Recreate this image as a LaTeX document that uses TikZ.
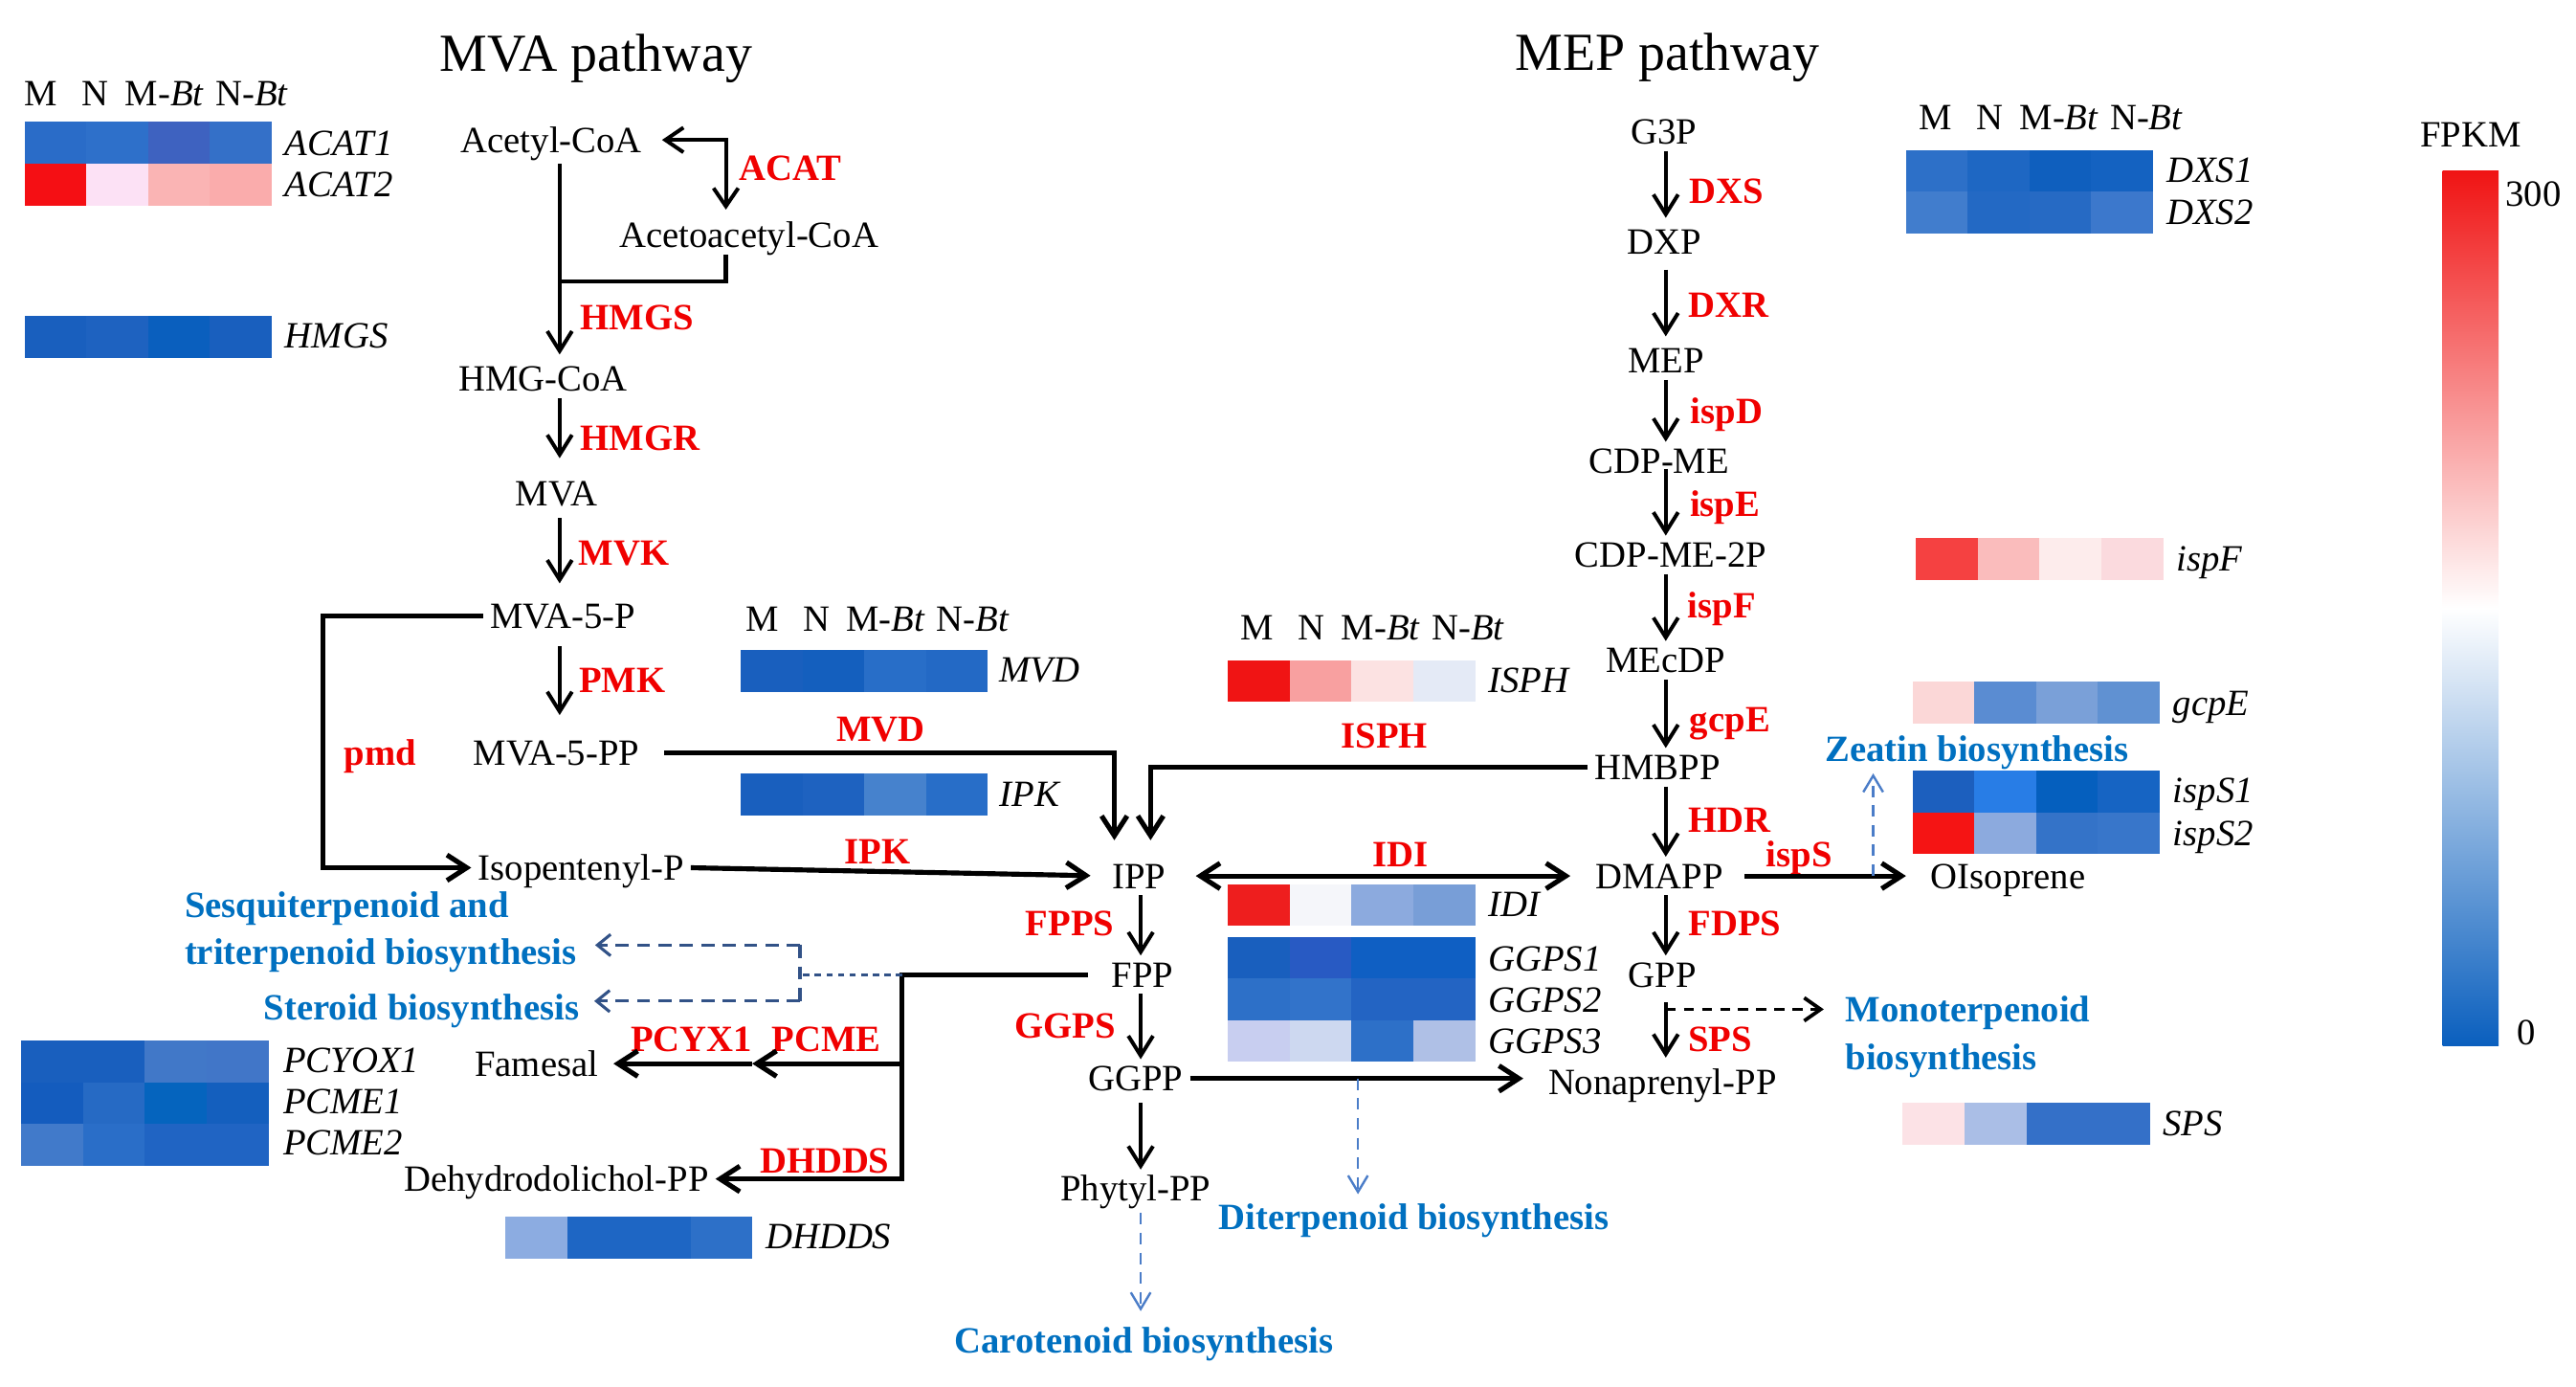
\documentclass[tikz,border=0pt]{standalone}
\usepackage{fontspec}
\setmainfont{Liberation Serif}
\usetikzlibrary{arrows.meta}
\definecolor{ered}{RGB}{240,0,0}
\definecolor{pblue}{RGB}{0,112,192}
\definecolor{dblue}{RGB}{50,82,135}
\definecolor{lblue}{RGB}{75,125,200}
\definecolor{cbred}{RGB}{240,20,20}
\definecolor{cbblue}{RGB}{10,95,190}
\newcommand\hcell[3]{\definecolor{hcellc}{RGB}{#3}\fill[hcellc] (#1,#2) rectangle ++(37.7,25.4);}
\newcommand\hrow[6]{\hcell{#1}{#2}{#3}\hcell{#1+37.5}{#2}{#4}\hcell{#1+75}{#2}{#5}\hcell{#1+112.5}{#2}{#6}}
\newcommand\hdr[3]{%
 \node (#1a) at (#2,#3) {M};
 \node (#1b) at (#2+33,#3) {N};
 \node (#1c) at (#2+75,#3) {M-\textit{Bt}};
 \node (#1d) at (#2+128,#3) {N-\textit{Bt}};}
\tikzset{
 every node/.style={font=\fontsize{22.5}{26}\selectfont, inner sep=4pt, text height=15pt, text depth=0pt},
 ttl/.style={font=\fontsize{32.5}{38}\selectfont},
 enz/.style={text=ered, font=\fontsize{22.5}{26}\selectfont\bfseries},
 pth/.style={text=pblue, font=\fontsize{22.5}{26}\selectfont\bfseries},
 gene/.style={anchor=west, inner sep=0pt, font=\fontsize{22.5}{26}\selectfont\itshape},
 arr/.style={line width=2.3pt, -{Straight Barb[length=12pt,width=15pt]}},
 arrT/.style={line width=3pt, -{Straight Barb[length=12pt,width=15.5pt]}},
 arrDT/.style={line width=3pt, {Straight Barb[length=12pt,width=15.5pt]}-{Straight Barb[length=12pt,width=15.5pt]}},
 arrD/.style={line width=2.3pt, {Straight Barb[length=11pt,width=15pt]}-{Straight Barb[length=11pt,width=15pt]}},
 lineM/.style={line width=2.5pt},
 ldash/.style={draw=lblue, line width=1.4pt, dash pattern=on 7pt off 5pt, -{Straight Barb[length=10pt,width=12pt]}},
 kdash/.style={line width=2.2pt, dash pattern=on 6pt off 5pt, -{Straight Barb[length=10pt,width=14pt]}},
 ddot/.style={draw=dblue, line width=1.8pt, dash pattern=on 4pt off 3pt},
 ddash/.style={draw=dblue, line width=1.8pt, dash pattern=on 8pt off 5pt},
 ddasharr/.style={ddash, -{Straight Barb[length=8pt,width=13pt]}}
}
\begin{document}
\begin{tikzpicture}[x=1pt,y=-1pt]
\useasboundingbox (0,0) rectangle (1565,842);
\fill[white] (0,0) rectangle (1565,842);

% titles
\node[ttl] (mvat) at (362,36) {MVA pathway};
\node[ttl] (mept) at (1013,35) {MEP pathway};

% headers
\hdr{hA}{25}{57}
\hdr{hB}{463}{376}
\hdr{hC}{764}{381}
\hdr{hD}{1176}{71}

% heatmaps
\hrow{15}{74}{42,108,200}{46,112,202}{62,98,192}{52,112,200}
\hrow{15}{99.4}{245,15,20}{252,225,245}{250,180,180}{250,172,172}
\hrow{15}{192}{25,95,190}{30,98,192}{10,95,190}{25,95,190}
\hrow{13}{632}{25,95,190}{25,95,190}{65,120,200}{65,118,200}
\hrow{13}{657.3}{20,92,190}{38,106,196}{5,100,190}{20,95,190}
\hrow{13}{682.6}{65,122,202}{42,110,200}{32,100,195}{32,100,195}
\hrow{307}{739}{140,172,225}{30,102,196}{30,102,196}{45,112,200}
\hrow{450}{395}{25,95,190}{20,95,190}{40,110,200}{35,105,197}
\hrow{450}{470}{25,95,190}{30,98,192}{70,130,205}{40,110,200}
\hrow{746}{401}{240,20,20}{248,160,160}{252,226,226}{228,234,246}
\hrow{746}{537}{238,30,30}{245,246,250}{140,170,222}{120,158,215}
\hrow{746}{569}{25,95,190}{40,90,195}{15,95,195}{15,95,195}
\hrow{746}{594.3}{45,112,200}{50,115,202}{35,100,195}{35,100,195}
\hrow{746}{619.6}{200,206,240}{205,216,240}{45,112,200}{175,192,230}
\hrow{1158}{91}{45,112,200}{30,103,195}{15,95,190}{20,98,193}
\hrow{1158}{116.3}{65,125,205}{35,105,196}{38,106,196}{60,120,204}
\hrow{1164}{327}{245,65,65}{250,188,188}{253,236,236}{251,218,222}
\hrow{1162}{414}{251,215,215}{90,140,210}{122,160,216}{96,145,210}
\hrow{1162}{468}{28,95,190}{40,125,230}{5,95,190}{22,100,195}
\hrow{1162}{493.3}{245,20,20}{140,170,222}{52,115,200}{56,118,202}
\hrow{1156}{670}{252,226,230}{170,190,230}{52,112,200}{52,112,200}

% gene labels
\node[gene] (gACAT1) at (173,87) {ACAT1};
\node[gene] (gACAT2) at (173,112) {ACAT2};
\node[gene] (gHMGS) at (173,204) {HMGS};
\node[gene] (gPCYOX1) at (172,644) {PCYOX1};
\node[gene] (gPCME1) at (172,669) {PCME1};
\node[gene] (gPCME2) at (172,694) {PCME2};
\node[gene] (gDHDDS) at (465,751) {DHDDS};
\node[gene] (gMVD) at (607,407) {MVD};
\node[gene] (gIPK) at (607,482) {IPK};
\node[gene] (gISPH) at (904,413) {ISPH};
\node[gene] (gIDI) at (904,549) {IDI};
\node[gene] (gGGPS1) at (904,582) {GGPS1};
\node[gene] (gGGPS2) at (904,607) {GGPS2};
\node[gene] (gGGPS3) at (904,632) {GGPS3};
\node[gene] (gDXS1) at (1316,103) {DXS1};
\node[gene] (gDXS2) at (1316,129) {DXS2};
\node[gene] (gispF) at (1322,339) {ispF};
\node[gene] (ggcpE) at (1320,427) {gcpE};
\node[gene] (gispS1) at (1320,480) {ispS1};
\node[gene] (gispS2) at (1320,506) {ispS2};
\node[gene] (gSPS) at (1314,682) {SPS};

% colour bar
\shade[top color=cbred, bottom color=cbblue, middle color=white] (1484,104) rectangle (1518,635);
\node (fpkm) at (1501,82) {FPKM};
\node[anchor=west] (cbmax) at (1518,118) {300};
\node[anchor=west] (cbmin) at (1525,627) {0};

% metabolites
\node (acetyl) at (335,85) {Acetyl-CoA};
\node (acetoacetyl) at (455,143) {Acetoacetyl-CoA};
\node (hmgcoa) at (330,230) {HMG-CoA};
\node (mva) at (338,300) {MVA};
\node (mva5p) at (342,374) {MVA-5-P};
\node (mva5pp) at (338,457) {MVA-5-PP};
\node (isop) at (353,527) {Isopentenyl-P};
\node (ipp) at (692,532) {IPP};
\node (fpp) at (694,592) {FPP};
\node (ggpp) at (690,655) {GGPP};
\node (phytyl) at (690,722) {Phytyl-PP};
\node (famesal) at (326,646) {Famesal};
\node (dehydro) at (338,716) {Dehydrodolichol-PP};
\node (g3p) at (1011,80) {G3P};
\node (dxp) at (1011,147) {DXP};
\node (mep) at (1012,219) {MEP};
\node (cdpme) at (1008,280) {CDP-ME};
\node (cdpme2p) at (1015,337) {CDP-ME-2P};
\node (mecdp) at (1012,401) {MEcDP};
\node (hmbpp) at (1007,466) {HMBPP};
\node (dmapp) at (1008,532) {DMAPP};
\node (gpp) at (1010,592) {GPP};
\node (nonap) at (1010,657) {Nonaprenyl-PP};
\node (oiso) at (1220,532) {OIsoprene};

% enzymes
\node[enz] (eACAT) at (480,102) {ACAT};
\node[enz] (eHMGS) at (387,193) {HMGS};
\node[enz] (eHMGR) at (389,266) {HMGR};
\node[enz] (eMVK) at (379,336) {MVK};
\node[enz] (ePMK) at (378,413) {PMK};
\node[enz] (epmd) at (231,457) {pmd};
\node[enz] (eMVD) at (535,443) {MVD};
\node[enz] (eIPK) at (533,517) {IPK};
\node[enz] (eISPH) at (841,447) {ISPH};
\node[enz] (eIDI) at (851,519) {IDI};
\node[enz] (eFPPS) at (650,561) {FPPS};
\node[enz] (eGGPS) at (647,623) {GGPS};
\node[enz] (ePCYX) at (420,631) {PCYX1};
\node[enz] (ePCME) at (502,631) {PCME};
\node[enz] (eDHDDS) at (501,705) {DHDDS};
\node[enz] (eDXS) at (1049,116) {DXS};
\node[enz] (eDXR) at (1050,185) {DXR};
\node[enz] (eispD) at (1049,250) {ispD};
\node[enz] (eispE) at (1048,306) {ispE};
\node[enz] (eispF) at (1046,368) {ispF};
\node[enz] (egcpE) at (1051,437) {gcpE};
\node[enz] (eHDR) at (1051,498) {HDR};
\node[enz] (eispS) at (1093,519) {ispS};
\node[enz] (eFDPS) at (1054,561) {FDPS};
\node[enz] (eSPS) at (1045,631) {SPS};

% pathway labels
\node[pth, anchor=west] (sesq1) at (108,550) {Sesquiterpenoid and};
\node[pth, anchor=west] (sesq2) at (108,578) {triterpenoid biosynthesis};
\node[pth, anchor=east] (steroid) at (356,612) {Steroid biosynthesis};
\node[pth] (zeatin) at (1201,455) {Zeatin biosynthesis};
\node[pth, anchor=west] (mono1) at (1117,613) {Monoterpenoid};
\node[pth, anchor=west] (mono2) at (1117,642) {biosynthesis};
\node[pth] (diterp) at (859,739) {Diterpenoid biosynthesis};
\node[pth] (carot) at (695,814) {Carotenoid biosynthesis};

% helper coordinates
\coordinate (mvx) at (340,0);
\coordinate (acatc) at (441,86);
\coordinate (joinc) at (340,171);
\coordinate (pmdx) at (196,0);
\coordinate (mvdx) at (677,0);
\coordinate (isphx) at (699,0);
\coordinate (ippx) at (693,0);
\coordinate (mepx) at (1012,0);
\coordinate (fppx) at (548,0);
\coordinate (sesx) at (486,0);
\coordinate (diterpx) at (825,0);
\coordinate (zeatx) at (1138,0);
\coordinate (midfa) at (457,0);
\coordinate (s1) at (486,574);
\coordinate (s2) at (486,608);

% MVA pathway connectors
\draw[arrD, shorten >=4pt] ([xshift=8pt]acetyl.east) -| (acetoacetyl.north -| acatc);
\draw[arr, shorten <=3pt, shorten >=3pt] (acetyl.south -| mvx) -- (hmgcoa.north -| mvx);
\draw[lineM] (acetoacetyl.south -| acatc) |- (joinc);
\draw[arr, shorten >=10pt] (hmgcoa.south -| mvx) -- (mva.north -| mvx);
\draw[arr, shorten <=3pt, shorten >=8pt] (mva.south -| mvx) -- (mva5p.north -| mvx);
\draw[arr, shorten <=7pt, shorten >=11pt] (mva5p.south -| mvx) -- (mva5pp.north -| mvx);
\draw[arrT] (mva5p.west) -- (mva5p.west -| pmdx) |- (isop.west);
\draw[arrT, shorten <=11pt, shorten >=10pt] (mva5pp.east) -| (ipp.north -| mvdx);
\draw[arrT, shorten >=10pt] (hmbpp.west) -| (ipp.north -| isphx);
\draw[arrT, shorten >=9pt] (isop.east) -- (ipp.west);

% central connectors
\draw[arrDT, shorten <=14pt, shorten >=11pt] (ipp.east) -- (dmapp.west);
\draw[arrT, shorten <=9pt, shorten >=11pt] (dmapp.east) -- (oiso.west);
\draw[ldash, shorten >=3pt] (dmapp.east -| zeatx) -- (zeatin.south -| zeatx);
\draw[arr] (ipp.south -| ippx) -- (fpp.north -| ippx);
\draw[arr] (fpp.south -| ippx) -- (ggpp.north -| ippx);
\draw[arr, shorten <=3pt] (ggpp.south -| ippx) -- (phytyl.north -| ippx);
\draw[ldash, shorten <=3pt, shorten >=6pt] (phytyl.south -| ippx) -- (carot.north -| ippx);
\draw[arrT, shorten >=11pt] (ggpp.east) -- (ggpp.east -| nonap.west);
\draw[ldash, shorten >=2pt] (ggpp.east -| diterpx) -- (diterp.north -| diterpx);

% MEP pathway connectors
\draw[arr, shorten >=3pt] (g3p.south -| mepx) -- (dxp.north -| mepx);
\draw[arr, shorten <=5pt, shorten >=3pt] (dxp.south -| mepx) -- (mep.north -| mepx);
\draw[arr] (mep.south -| mepx) -- (cdpme.north -| mepx);
\draw[arr, shorten <=-7pt] (cdpme.south -| mepx) -- (cdpme2p.north -| mepx);
\draw[arr] (cdpme2p.south -| mepx) -- (mecdp.north -| mepx);
\draw[arr] (mecdp.south -| mepx) -- (hmbpp.north -| mepx);
\draw[arr] (hmbpp.south -| mepx) -- (dmapp.north -| mepx);
\draw[arr] (dmapp.south -| mepx) -- (gpp.north -| mepx);
\draw[arr, shorten <=5pt, shorten >=3pt] (gpp.south -| mepx) -- (nonap.north -| mepx);
\draw[kdash, shorten >=9pt] (mono1.west -| mepx) -- (mono1.west);

% FPP side branches
\draw[arrT, shorten <=10pt] (fpp.west) -- (fpp.west -| fppx) |- (dehydro.east);
\draw[arrT] (famesal.east -| fppx) -- (famesal.east -| midfa);
\draw[arrT, shorten >=5pt] (famesal.east -| midfa) -- (famesal.east);
\draw[ddot] (fpp.west -| fppx) -- (fpp.west -| sesx);
\draw[ddash] (s1) -- (s2);
\draw[ddasharr, shorten >=7pt] (s1) -- (s1 -| sesq2.east);
\draw[ddasharr, shorten >=5pt] (s2) -- (s2 -| steroid.east);
\end{tikzpicture}
\end{document}
